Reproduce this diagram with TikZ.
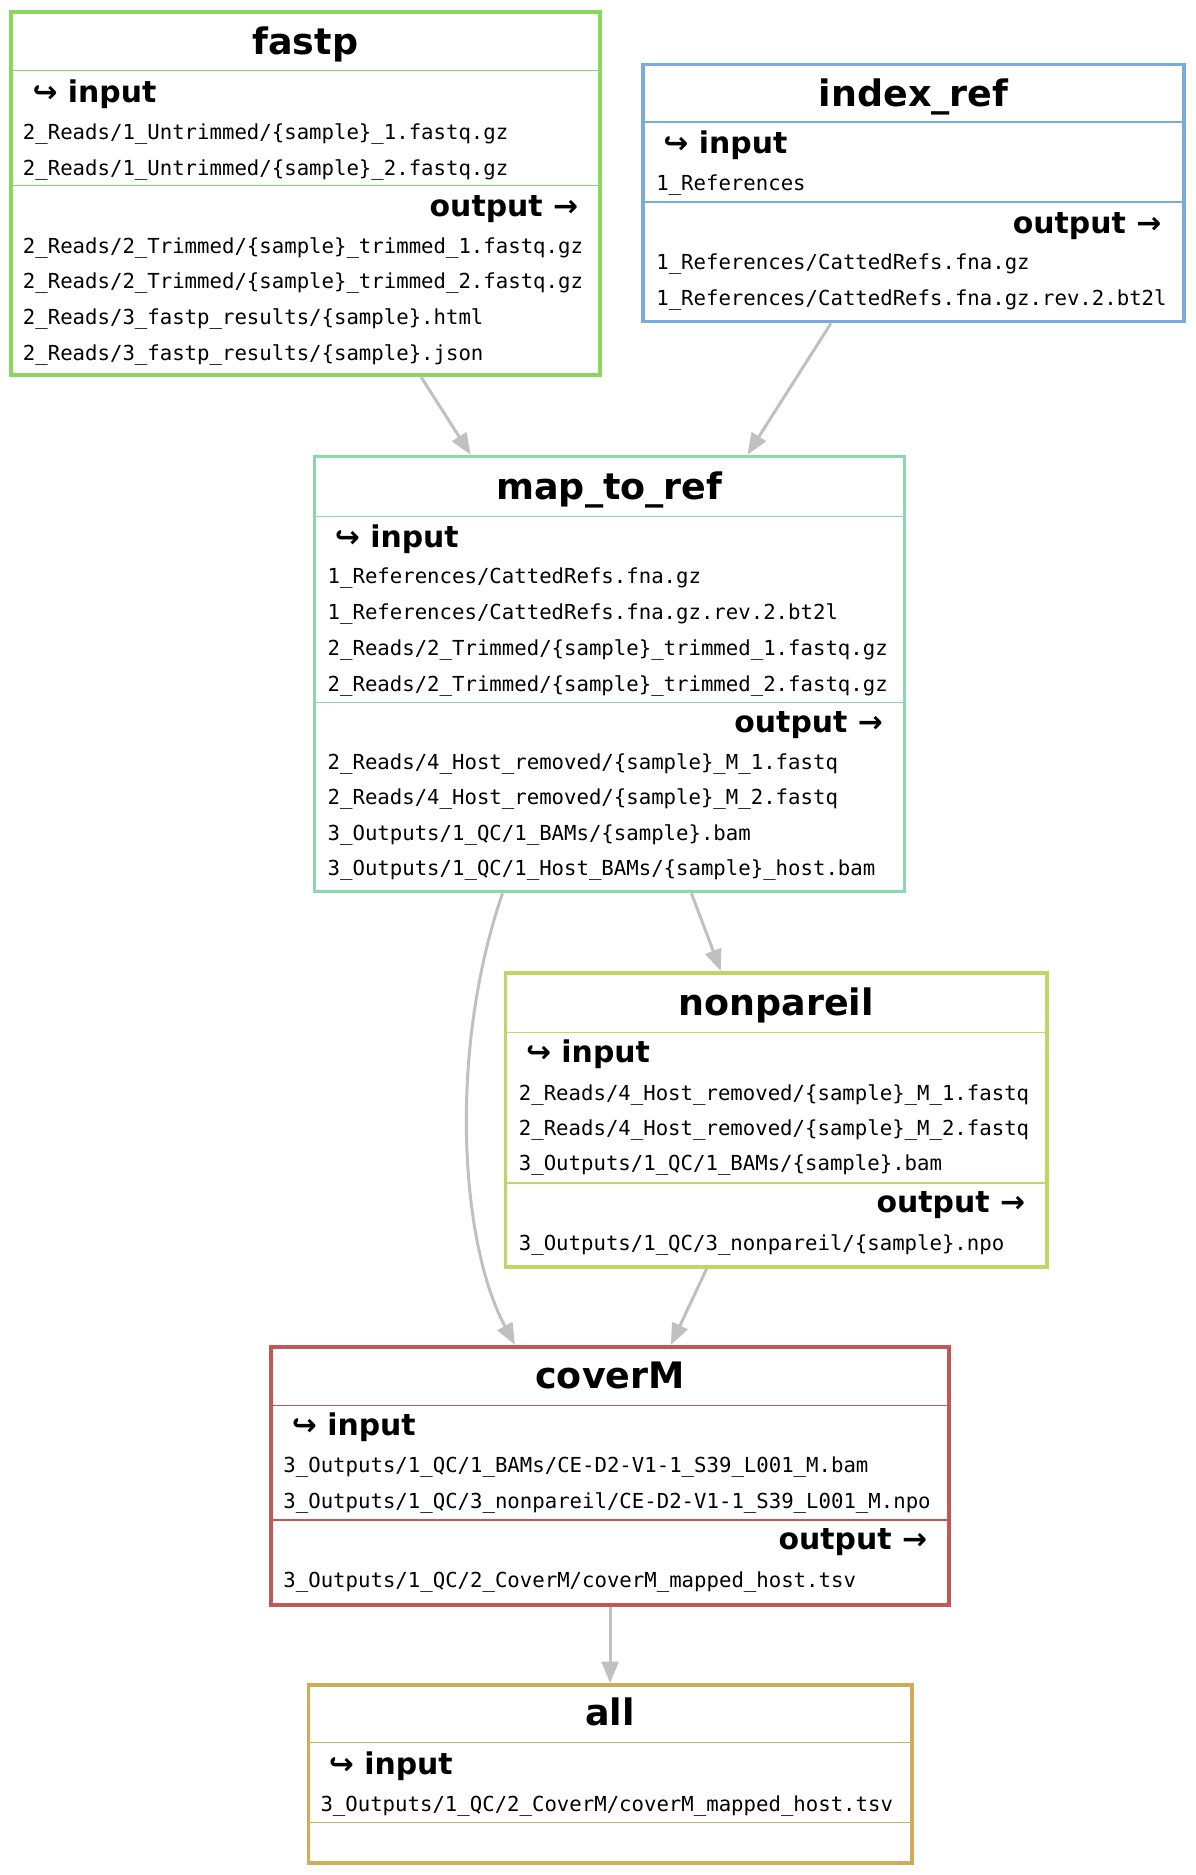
\documentclass[tikz,border=0pt]{standalone}
\usepackage{fontspec}
\setmainfont{DejaVu Sans}
\setmonofont{DejaVu Sans Mono}
\usetikzlibrary{arrows.meta}
\definecolor{fastpc}{RGB}{137,215,95}
\definecolor{indexc}{RGB}{122,172,215}
\definecolor{mapc}{RGB}{140,215,172}
\definecolor{nonpc}{RGB}{190,215,100}
\definecolor{coverc}{RGB}{192,88,88}
\definecolor{allc}{RGB}{208,172,88}
\definecolor{edgec}{RGB}{192,192,192}

\begin{document}
\begin{tikzpicture}[x=1pt,y=-1pt,
    rule/.style={draw=#1,line width=3pt,rectangle,inner sep=0pt},
    row/.style={draw=#1,line width=1.2pt},
    title/.style={anchor=base,inner sep=0pt,yshift=-1pt,font=\fontsize{30.5}{36}\selectfont\bfseries},
    head/.style={anchor=base west,inner sep=0pt,yshift=-1.5pt,font=\fontsize{25}{30}\selectfont\bfseries},
    outhead/.style={anchor=base east,inner sep=0pt,yshift=-2pt,font=\fontsize{25}{30}\selectfont\bfseries},
    file/.style={anchor=base west,inner sep=0pt,yshift=-1.5pt,font=\fontsize{17.3}{20}\selectfont\ttfamily},
    edge/.style={draw=edgec,line width=2.5pt,-{Triangle[length=18pt,width=14pt]}}]
    \useasboundingbox (0,0) rectangle (1000,1569);

    % fastp
    \node[rule=fastpc,minimum width=493pt,minimum height=304pt] (fastp) at (255.5,162) {};
    \draw[row=fastpc] (fastp.west |- 0,59) -- (fastp.east |- 0,59);
    \draw[row=fastpc] (fastp.west |- 0,155) -- (fastp.east |- 0,155);
    \node[title] (fastp-t) at (255.5,45) {fastp};
    \node[head] (fastp-i) at (27,84) {↪ input};
    \node[file] (fastp-i1) at (19,115) {2\_Reads/1\_Untrimmed/\{sample\}\_1.fastq.gz};
    \node[file] (fastp-i2) at (19,145) {2\_Reads/1\_Untrimmed/\{sample\}\_2.fastq.gz};
    \node[outhead] (fastp-o) at (484,179) {output →};
    \node[file] (fastp-o1) at (19,211) {2\_Reads/2\_Trimmed/\{sample\}\_trimmed\_1.fastq.gz};
    \node[file] (fastp-o2) at (19,240) {2\_Reads/2\_Trimmed/\{sample\}\_trimmed\_2.fastq.gz};
    \node[file] (fastp-o3) at (19,270) {2\_Reads/3\_fastp\_results/\{sample\}.html};
    \node[file] (fastp-o4) at (19,300) {2\_Reads/3\_fastp\_results/\{sample\}.json};

    % index_ref
    \node[rule=indexc,minimum width=453pt,minimum height=215pt] (index) at (764.5,161.5) {};
    \draw[row=indexc] (index.west |- 0,102) -- (index.east |- 0,102);
    \draw[row=indexc] (index.west |- 0,169) -- (index.east |- 0,169);
    \node[title] (index-t) at (764.5,88) {index\_ref};
    \node[head] (index-i) at (555,127) {↪ input};
    \node[file] (index-i1) at (549,158) {1\_References};
    \node[outhead] (index-o) at (972,193) {output →};
    \node[file] (index-o1) at (549,224) {1\_References/CattedRefs.fna.gz};
    \node[file] (index-o2) at (549,254) {1\_References/CattedRefs.fna.gz.rev.2.bt2l};

    % map_to_ref
    \node[rule=mapc,minimum width=494pt,minimum height=364pt] (map) at (510,564) {};
    \draw[row=mapc] (map.west |- 0,432) -- (map.east |- 0,432);
    \draw[row=mapc] (map.west |- 0,588) -- (map.east |- 0,588);
    \node[title] (map-t) at (510,417) {map\_to\_ref};
    \node[head] (map-i) at (280,457) {↪ input};
    \node[file] (map-i1) at (274,487) {1\_References/CattedRefs.fna.gz};
    \node[file] (map-i2) at (274,517) {1\_References/CattedRefs.fna.gz.rev.2.bt2l};
    \node[file] (map-i3) at (274,547) {2\_Reads/2\_Trimmed/\{sample\}\_trimmed\_1.fastq.gz};
    \node[file] (map-i4) at (274,577) {2\_Reads/2\_Trimmed/\{sample\}\_trimmed\_2.fastq.gz};
    \node[outhead] (map-o) at (739,611) {output →};
    \node[file] (map-o1) at (274,642) {2\_Reads/4\_Host\_removed/\{sample\}\_M\_1.fastq};
    \node[file] (map-o2) at (274,672) {2\_Reads/4\_Host\_removed/\{sample\}\_M\_2.fastq};
    \node[file] (map-o3) at (274,702) {3\_Outputs/1\_QC/1\_BAMs/\{sample\}.bam};
    \node[file] (map-o4) at (274,731) {3\_Outputs/1\_QC/1\_Host\_BAMs/\{sample\}\_host.bam};

    % nonpareil
    \node[rule=nonpc,minimum width=453pt,minimum height=246pt] (nonp) at (649.5,937) {};
    \draw[row=nonpc] (nonp.west |- 0,864) -- (nonp.east |- 0,864);
    \draw[row=nonpc] (nonp.west |- 0,990) -- (nonp.east |- 0,990);
    \node[title] (nonp-t) at (649.5,849) {nonpareil};
    \node[head] (nonp-i) at (440,888) {↪ input};
    \node[file] (nonp-i1) at (434,919) {2\_Reads/4\_Host\_removed/\{sample\}\_M\_1.fastq};
    \node[file] (nonp-i2) at (434,949) {2\_Reads/4\_Host\_removed/\{sample\}\_M\_2.fastq};
    \node[file] (nonp-i3) at (434,978) {3\_Outputs/1\_QC/1\_BAMs/\{sample\}.bam};
    \node[outhead] (nonp-o) at (858,1013) {output →};
    \node[file] (nonp-o1) at (434,1045) {3\_Outputs/1\_QC/3\_nonpareil/\{sample\}.npo};

    % coverM
    \node[rule=coverc,minimum width=567pt,minimum height=216pt] (cover) at (510.5,1235) {};
    \draw[row=coverc] (cover.west |- 0,1176) -- (cover.east |- 0,1176);
    \draw[row=coverc] (cover.west |- 0,1272) -- (cover.east |- 0,1272);
    \node[title] (cover-t) at (510.5,1161) {coverM};
    \node[head] (cover-i) at (244,1200) {↪ input};
    \node[file] (cover-i1) at (237,1231) {3\_Outputs/1\_QC/1\_BAMs/CE-D2-V1-1\_S39\_L001\_M.bam};
    \node[file] (cover-i2) at (237,1261) {3\_Outputs/1\_QC/3\_nonpareil/CE-D2-V1-1\_S39\_L001\_M.npo};
    \node[outhead] (cover-o) at (776,1295) {output →};
    \node[file] (cover-o1) at (237,1327) {3\_Outputs/1\_QC/2\_CoverM/coverM\_mapped\_host.tsv};

    % all
    \node[rule=allc,minimum width=505pt,minimum height=149pt] (all) at (510.5,1484.5) {};
    \draw[row=allc] (all.west |- 0,1458) -- (all.east |- 0,1458);
    \draw[row=allc] (all.west |- 0,1525) -- (all.east |- 0,1525);
    \node[title] (all-t) at (510.5,1443) {all};
    \node[head] (all-i) at (275,1483) {↪ input};
    \node[file] (all-i1) at (268,1514) {3\_Outputs/1\_QC/2\_CoverM/coverM\_mapped\_host.tsv};

    % edges
    \draw[edge] (fastp) -- (map);
    \draw[edge] (index) -- (map);
    \draw[edge] (map) -- (nonp);
    \draw[edge] (map.244.7) .. controls (375,880) and (385,1040) .. (cover.126.2);
    \draw[edge] (nonp) -- (cover);
    \draw[edge] (cover) -- (all);
\end{tikzpicture}
\end{document}
